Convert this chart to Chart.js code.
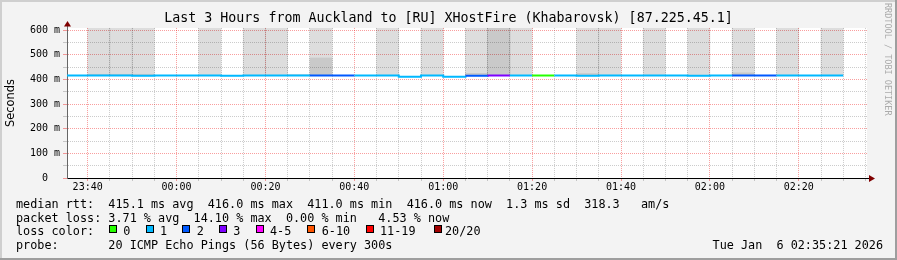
<!DOCTYPE html>
<html><head><meta charset="utf-8">
<script src="https://cdn.jsdelivr.net/npm/chart.js@4.4.1/dist/chart.umd.min.js"></script>
<style>
html,body{margin:0;padding:0;background:#f3f3f3;}
#wrap{width:897px;height:260px;position:relative;}
canvas{display:block;}
</style></head><body>
<div id="wrap"><canvas id="c" width="897" height="260"></canvas></div>
<script>
// ---------- data ----------
const chartTitle = 'Last 3 Hours from Auckland to [RU] XHostFire (Khabarovsk) [87.225.45.1]';
const viewStart = '23:35:21';
const viewEnd = '02:35:21';
const timeSlots = ['23:35','23:40','23:45','23:50','23:55','00:00','00:05','00:10','00:15','00:20',
                   '00:25','00:30','00:35','00:40','00:45','00:50','00:55','01:00','01:05','01:10',
                   '01:15','01:20','01:25','01:30','01:35','01:40','01:45','01:50','01:55','02:00',
                   '02:05','02:10','02:15','02:20','02:25'];
const lastSlotEnd = '02:30';
const medianMs = [416,416,416,415,416,416,416,415,416,416,
                  416,416,416,416,416,411,416,411,415,416,
                  416,416,416,415,416,416,416,416,415,416,
                  416,416,416,416,416];
const lossCount = [1,1,1,1,1,1,1,1,1,1,
                   1,2,2,1,1,1,1,1,2,3,
                   1,0,1,1,1,1,1,1,1,1,
                   2,2,1,1,1];
const smokeTop = [null,620,620,620,null,null,620,null,620,620,
                  421,620,null,null,620,null,620,null,620,620,
                  620,null,null,620,620,null,620,null,620,null,
                  620,null,620,null,620];
const smokeDarkTop = [null,421,421,421,null,null,null,null,null,null,
                      null,487,null,null,null,null,null,null,425,620,
                      null,null,null,424,null,null,null,null,null,null,
                      427,null,null,null,null];
const lossLabels = ['0','1','2','3','4-5','6-10','11-19','20/20'];
const lossColors = ['#26ff00','#00b8ff','#0059ff','#7e00ff','#ff00ff','#ff5500','#ff0000','#a10000'];
const xTickTimes = ['23:40','00:00','00:20','00:40','01:00','01:20','01:40','02:00','02:20'];
const yTickValues = [0,50,100,150,200,250,300,350,400,450,500,550,600];
const yTickLabels = ['0  ','','100 m','','200 m','','300 m','','400 m','','500 m','','600 m'];
const yMax = 609;
const statLines = [
  'median rtt:  415.1 ms avg  416.0 ms max  411.0 ms min  416.0 ms now  1.3 ms sd  318.3   am/s',
  'packet loss: 3.71 % avg  14.10 % max  0.00 % min   4.53 % now',
  'loss color:',
  'probe:       20 ICMP Echo Pings (56 Bytes) every 300s'
];
const stampText = 'Tue Jan  6 02:35:21 2026';
const watermark = 'RRDTOOL / TOBI OETIKER';

// ---------- helpers ----------
function toMin(t){
  const p = t.split(':').map(Number);
  const h = p[0] < 12 ? p[0] + 24 : p[0];
  return (h - 23) * 60 + p[1] + (p[2] || 0) / 60;
}
function lossColor(n){
  let i;
  if (n <= 3) i = n; else if (n <= 5) i = 4; else if (n <= 10) i = 5; else if (n <= 19) i = 6; else i = 7;
  return lossColors[i];
}
const slotMin = timeSlots.map(toMin);
const slotEnd = slotMin.map((m, i) => i + 1 < slotMin.length ? slotMin[i + 1] : toMin(lastSlotEnd));
const xMin = toMin(viewStart), xMax = toMin(viewEnd);
const xLabelMap = {};
xTickTimes.forEach(t => { xLabelMap[Math.round(toMin(t))] = t; });

const lineData = slotMin.map((m, i) => ({x: m, y: medianMs[i]}));
lineData.push({x: slotEnd[slotEnd.length - 1], y: medianMs[medianMs.length - 1]});

const smokeData = [], smokeDarkData = [];
slotMin.forEach((m, i) => {
  const cx = (m + slotEnd[i]) / 2;
  if (smokeTop[i] != null) smokeData.push({x: cx, y: [medianMs[i], smokeTop[i]]});
  if (smokeDarkTop[i] != null) smokeDarkData.push({x: cx, y: [medianMs[i], smokeDarkTop[i]]});
});

const MONO = "'DejaVu Sans Mono', monospace";
const RED = 'rgba(240,0,0,0.38)';
const GRAY = 'rgba(143,143,143,0.45)';

const decor = {
  id: 'decor',
  beforeDraw(chart){
    const {ctx, chartArea: a} = chart;
    ctx.save();
    ctx.fillStyle = '#f3f3f3'; ctx.fillRect(0, 0, 897, 260);
    ctx.fillStyle = '#cfcfcf'; ctx.fillRect(0, 0, 897, 2); ctx.fillRect(0, 0, 2, 260);
    ctx.fillStyle = '#9e9e9e'; ctx.fillRect(0, 258, 897, 2); ctx.fillRect(895, 0, 2, 260);
    ctx.fillStyle = '#ffffff'; ctx.fillRect(a.left, a.top, a.right - a.left, a.bottom - a.top);
    ctx.restore();
  },
  afterDraw(chart){
    const {ctx, chartArea: a} = chart;
    ctx.save();
    // axis extensions + arrows
    ctx.strokeStyle = '#666'; ctx.lineWidth = 1;
    ctx.beginPath(); ctx.moveTo(a.left + 0.5, a.top); ctx.lineTo(a.left + 0.5, a.top - 5); ctx.stroke();
    ctx.strokeStyle = '#000';
    ctx.beginPath(); ctx.moveTo(a.right, a.bottom + 0.5); ctx.lineTo(a.right + 5, a.bottom + 0.5); ctx.stroke();
    ctx.fillStyle = '#7f0000';
    ctx.beginPath(); ctx.moveTo(a.left + 0.5, a.top - 7); ctx.lineTo(a.left - 3, a.top - 1.5); ctx.lineTo(a.left + 4, a.top - 1.5); ctx.closePath(); ctx.fill();
    ctx.beginPath(); ctx.moveTo(a.right + 8, a.bottom + 0.5); ctx.lineTo(a.right + 2, a.bottom - 3); ctx.lineTo(a.right + 2, a.bottom + 4); ctx.closePath(); ctx.fill();

    // legend text
    ctx.fillStyle = '#000';
    ctx.font = '11.8px ' + MONO;
    ctx.textBaseline = 'alphabetic';
    ctx.textAlign = 'left';
    const base = [207.5, 221.5, 235.3, 249.3];
    statLines.forEach((s, i) => ctx.fillText(s, 16, base[i]));
    const sqX = [109.3, 145.7, 182.3, 219, 256, 307.3, 365.7, 434.3];
    const lbX = [123.3, 160, 196.7, 233.3, 270, 321.7, 380, 445];
    lossLabels.forEach((l, i) => {
      const x = Math.round(sqX[i]);
      ctx.fillStyle = lossColors[i];
      ctx.fillRect(x, 226, 7, 7);
      ctx.strokeStyle = '#000';
      ctx.strokeRect(x + 0.5, 225.5, 7, 7);
      ctx.fillStyle = '#000';
      ctx.fillText(l, lbX[i], base[2]);
    });
    ctx.textAlign = 'right';
    ctx.fillText(stampText, 883, base[3]);

    // watermark
    ctx.translate(887, 3);
    ctx.rotate(Math.PI / 2);
    ctx.textAlign = 'left';
    ctx.textBaseline = 'middle';
    ctx.font = '8.5px ' + MONO;
    ctx.fillStyle = '#ababab';
    ctx.fillText(watermark, 0, 0);
    ctx.restore();
  }
};

new Chart(document.getElementById('c'), {
  type: 'bar',
  data: {
    datasets: [
      {
        type: 'line',
        label: 'median',
        data: lineData,
        stepped: true,
        borderWidth: 2,
        borderColor: lossColor(1),
        pointRadius: 0,
        fill: false,
        order: 0,
        segment: { borderColor: c => lossColor(lossCount[c.p0DataIndex]) }
      },
      {
        label: 'smoke',
        data: smokeData,
        backgroundColor: 'rgba(0,0,0,0.135)',
        borderWidth: 0,
        grouped: false,
        barPercentage: 1,
        categoryPercentage: 1,
        order: 2
      },
      {
        label: 'smoke dark',
        data: smokeDarkData,
        backgroundColor: 'rgba(0,0,0,0.09)',
        borderWidth: 0,
        grouped: false,
        barPercentage: 1,
        categoryPercentage: 1,
        order: 1
      }
    ]
  },
  options: {
    responsive: false,
    animation: false,
    events: [],
    layout: { padding: 0 },
    plugins: {
      legend: { display: false },
      tooltip: { enabled: false },
      title: {
        display: true,
        text: chartTitle,
        color: '#000',
        font: { family: MONO, size: 13.3, weight: 'normal', lineHeight: 1.2 },
        padding: { top: 11, bottom: 1 }
      }
    },
    scales: {
      x: {
        type: 'linear',
        min: xMin, max: xMax,
        offset: false,
        afterBuildTicks: s => {
          const t = [];
          for (let m = 40; m <= 215; m += 5) t.push({value: m});
          s.ticks = t;
        },
        afterFit: s => { s.height = 82; },
        grid: {
          offset: false,
          color: c => (c.tick && Math.round(c.tick.value) % 20 === 0) ? RED : GRAY,
          lineWidth: 1,
          drawTicks: true,
          tickLength: 3
        },
        border: { display: true, color: '#000', width: 1, dash: [1, 1] },
        ticks: {
          autoSkip: false,
          maxRotation: 0,
          padding: 0,
          color: '#000',
          font: { family: MONO, size: 10 },
          callback: v => xLabelMap[Math.round(v)] || ''
        }
      },
      y: {
        type: 'linear',
        position: 'left',
        min: 0, max: yMax,
        afterBuildTicks: s => { s.ticks = yTickValues.map(v => ({value: v})); },
        afterFit: s => { s.width = 67; },
        grid: {
          color: c => (c.tick && c.tick.value % 100 === 0) ? RED : GRAY,
          lineWidth: 1,
          drawTicks: true,
          tickLength: 4
        },
        border: { display: true, color: '#666', width: 1, dash: [1, 1] },
        ticks: {
          autoSkip: false,
          padding: 3,
          color: '#000',
          font: { family: MONO, size: 10 },
          callback: (v) => { const i = yTickValues.indexOf(v); return i >= 0 ? yTickLabels[i] : ''; }
        },
        title: {
          display: true,
          text: 'Seconds',
          color: '#000',
          font: { family: "'DejaVu Sans', sans-serif", size: 11.4 },
          padding: { top: 4, bottom: 0 }
        }
      },
      y2: {
        type: 'linear',
        position: 'right',
        display: true,
        afterFit: s => { s.width = 30; },
        grid: { display: false, drawTicks: false },
        border: { display: false },
        ticks: { display: false }
      }
    }
  },
  plugins: [decor]
});
</script>
</body></html>
